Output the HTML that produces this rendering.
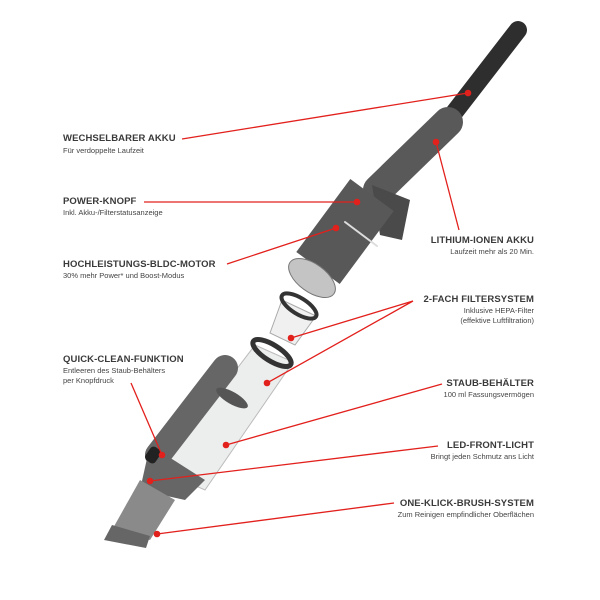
<!DOCTYPE html>
<html><head><meta charset="utf-8"><style>
body{margin:0;background:#fff;}
.w{position:relative;width:600px;height:600px;overflow:hidden;font-family:"Liberation Sans",sans-serif;}
svg{position:absolute;left:0;top:0;}
.t{position:absolute;font-weight:bold;font-size:9.5px;color:#3a3a3a;white-space:nowrap;letter-spacing:0.1px;}
.s{position:absolute;font-size:7.5px;color:#444;white-space:nowrap;line-height:10px;}
.r{text-align:right;}
</style></head><body><div class="w">
<svg width="600" height="600">
<g stroke-linecap="round">
<line x1="518" y1="30" x2="450" y2="118" stroke="#2e2e2e" stroke-width="18"/>
<line x1="448" y1="122" x2="378" y2="190" stroke="#595959" stroke-width="30"/>
<polygon points="372,185 410,200 402,240 380,235" fill="#4a4a4a"/>
<line x1="372" y1="195" x2="318" y2="268" stroke="#585858" stroke-width="54" stroke-linecap="butt"/>
<line x1="345" y1="222" x2="377" y2="246" stroke="#ddd" stroke-width="2"/>
<ellipse cx="312" cy="278" rx="27" ry="14" transform="rotate(36 312 278)" fill="#c4c4c4" stroke="#777"/>
<polygon points="282,300 316,316 295,345 270,333" fill="#f0f0f0" stroke="#aaa"/>
<ellipse cx="299" cy="306" rx="20" ry="8" transform="rotate(32 299 306)" fill="none" stroke="#333" stroke-width="4"/>
<polygon points="255,345 293,362 205,490 160,470" fill="#eceded" stroke="#bbb"/>
<ellipse cx="272" cy="353" rx="22" ry="8" transform="rotate(32 272 353)" fill="none" stroke="#333" stroke-width="5"/>
<line x1="225" y1="368" x2="158" y2="455" stroke="#666" stroke-width="26"/>
<ellipse cx="232" cy="398" rx="18" ry="6" transform="rotate(30 232 398)" fill="#555"/>
<polygon points="150,445 205,480 185,500 140,490" fill="#666"/>
<polygon points="140,480 175,500 150,540 112,530" fill="#8a8a8a"/>
<polygon points="112,525 150,536 146,548 104,540" fill="#666"/>
<rect x="145" y="449" width="16" height="12" rx="4" fill="#222" transform="rotate(-55 153 455)"/>
</g>
<g stroke="#e2201c" stroke-width="1.3" fill="none">
<line x1="182" y1="139" x2="468" y2="93"/>
<line x1="436" y1="142" x2="459" y2="230"/>
<line x1="144" y1="202" x2="357" y2="202"/>
<line x1="227" y1="264" x2="336" y2="228"/>
<polyline points="291,338 413,301 267,383"/>
<line x1="131" y1="383" x2="162" y2="455"/>
<line x1="442" y1="384" x2="226" y2="445"/>
<line x1="438" y1="446" x2="150" y2="481"/>
<line x1="394" y1="503" x2="157" y2="534"/>
</g>
<g fill="#e2201c">
<circle cx="468" cy="93" r="3.3"/><circle cx="436" cy="142" r="3.3"/><circle cx="357" cy="202" r="3.3"/>
<circle cx="336" cy="228" r="3.3"/><circle cx="291" cy="338" r="3.3"/><circle cx="267" cy="383" r="3.3"/>
<circle cx="162" cy="455" r="3.3"/><circle cx="226" cy="445" r="3.3"/><circle cx="150" cy="481" r="3.3"/><circle cx="157" cy="534" r="3.3"/>
</g>
</svg>
<div class="t" style="left:63px;top:133px">WECHSELBARER AKKU</div>
<div class="s" style="left:63px;top:146px">Für verdoppelte Laufzeit</div>
<div class="t" style="left:63px;top:196px">POWER-KNOPF</div>
<div class="s" style="left:63px;top:208px">Inkl. Akku-/Filterstatusanzeige</div>
<div class="t" style="left:63px;top:259px">HOCHLEISTUNGS-BLDC-MOTOR</div>
<div class="s" style="left:63px;top:271px">30% mehr Power* und Boost-Modus</div>
<div class="t" style="left:63px;top:354px">QUICK-CLEAN-FUNKTION</div>
<div class="s" style="left:63px;top:366px">Entleeren des Staub-Behälters<br>per Knopfdruck</div>
<div class="t r" style="right:66px;top:235px">LITHIUM-IONEN AKKU</div>
<div class="s r" style="right:66px;top:247px">Laufzeit mehr als 20 Min.</div>
<div class="t r" style="right:66px;top:294px">2-FACH FILTERSYSTEM</div>
<div class="s r" style="right:66px;top:306px">Inklusive HEPA-Filter<br>(effektive Luftfiltration)</div>
<div class="t r" style="right:66px;top:378px">STAUB-BEHÄLTER</div>
<div class="s r" style="right:66px;top:390px">100 ml Fassungsvermögen</div>
<div class="t r" style="right:66px;top:440px">LED-FRONT-LICHT</div>
<div class="s r" style="right:66px;top:452px">Bringt jeden Schmutz ans Licht</div>
<div class="t r" style="right:66px;top:498px">ONE-KLICK-BRUSH-SYSTEM</div>
<div class="s r" style="right:66px;top:510px">Zum Reinigen empfindlicher Oberflächen</div>
</div></body></html>
